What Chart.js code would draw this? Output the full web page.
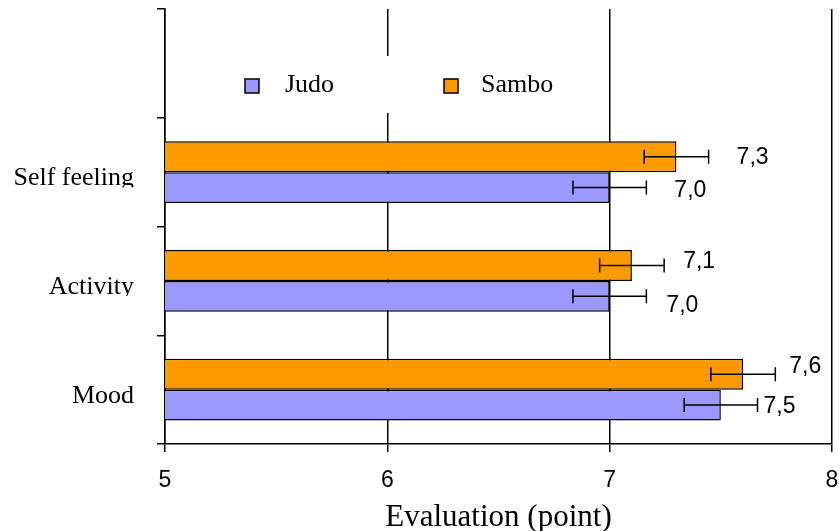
<!DOCTYPE html>
<html>
<head>
<meta charset="utf-8">
<script src="https://cdn.jsdelivr.net/npm/chart.js@4.4.1/dist/chart.umd.min.js"></script>
<style>
  html, body { margin: 0; padding: 0; background: #fff; }
  canvas { display: block; }
</style>
</head>
<body>
<canvas id="chart" width="839" height="531"></canvas>
<script>
// Categories top to bottom; the first slot is left empty to hold the legend.
const categories = ['', 'Self feeling', 'Activity', 'Mood'];

// Mean evaluation (points) and error margins per group
const samboValues = [null, 7.3, 7.1, 7.6];
const judoValues  = [null, 7.0, 7.0, 7.5];
const samboErrors = [null, 0.145, 0.145, 0.145];
const judoErrors  = [null, 0.165, 0.165, 0.165];

// Value axis
const xTickValues = [5, 6, 7, 8];
const xTitle = 'Evaluation (point)';

const ORANGE = '#FF9900';
const LILAC = '#9999FF';
const SERIF = '"Liberation Serif", "Times New Roman", serif';
const SANS = '"Liberation Sans", Arial, sans-serif';

// Hand-placed value labels: dx from the error-bar end, dy is the baseline from the bar centre
const labelNudge = [
  [null, { dx: 28, dy: 7.5 }, { dx: 19, dy: 2.5 }, { dx: 14, dy: -1.5 }],   // Sambo
  [null, { dx: 28, dy: 9.5 }, { dx: 20, dy: 16 }, { dx: 6, dy: 7.5 }]       // Judo
];
const errorSets = [samboErrors, judoErrors];

const errorBars = {
  id: 'errorBars',
  afterDatasetsDraw(chart) {
    const ctx = chart.ctx;
    const xs = chart.scales.x;
    chart.data.datasets.forEach((ds, di) => {
      const meta = chart.getDatasetMeta(di);
      meta.data.forEach((bar, i) => {
        const v = ds.data[i];
        if (v == null) return;
        const e = errorSets[di][i];
        const lo = xs.getPixelForValue(v - e);
        const hi = xs.getPixelForValue(v + e);
        const y = bar.y;
        ctx.save();
        ctx.strokeStyle = '#000';
        ctx.lineWidth = 1.5;
        ctx.beginPath();
        ctx.moveTo(lo, y); ctx.lineTo(hi, y);
        ctx.moveTo(lo, y - 7); ctx.lineTo(lo, y + 7);
        ctx.moveTo(hi, y - 7); ctx.lineTo(hi, y + 7);
        ctx.stroke();
        const n = labelNudge[di][i];
        ctx.fillStyle = '#000';
        ctx.font = '23px ' + SANS;
        ctx.textAlign = 'left';
        ctx.textBaseline = 'alphabetic';
        ctx.fillText(v.toFixed(1).replace('.', ','), hi + n.dx, y + n.dy);
        ctx.restore();
      });
    });
  }
};

// Category names, right-aligned and clipped just below the baseline
const categoryLabels = {
  id: 'categoryLabels',
  afterDraw(chart) {
    const ctx = chart.ctx;
    const ys = chart.scales.y;
    const right = chart.chartArea.left - 31;
    categories.forEach((name, i) => {
      if (!name) return;
      const base = ys.getPixelForTick(i) + 13;
      ctx.save();
      ctx.beginPath();
      ctx.rect(0, base - 40, right + 4, 42);
      ctx.clip();
      ctx.fillStyle = '#000';
      ctx.font = '26px ' + SERIF;
      ctx.textAlign = 'right';
      ctx.textBaseline = 'alphabetic';
      ctx.fillText(name, right, base);
      ctx.restore();
    });
  }
};

// Legend placed inside the empty top slot, on a white panel
const insideLegend = {
  id: 'insideLegend',
  afterDraw(chart) {
    const ctx = chart.ctx;
    const a = chart.chartArea;
    ctx.save();
    ctx.fillStyle = '#fff';
    ctx.fillRect(a.left + 65, a.top + 47, 355, 57);
    const items = [
      { text: 'Judo', color: LILAC, box: a.left + 80, label: a.left + 120 },
      { text: 'Sambo', color: ORANGE, box: a.left + 279, label: a.left + 316 }
    ];
    items.forEach(it => {
      ctx.fillStyle = it.color;
      ctx.fillRect(it.box, a.top + 70, 14, 14);
      ctx.strokeStyle = '#000';
      ctx.lineWidth = 1.5;
      ctx.strokeRect(it.box, a.top + 70, 14, 14);
      ctx.fillStyle = '#000';
      ctx.font = '26px ' + SERIF;
      ctx.textAlign = 'left';
      ctx.textBaseline = 'alphabetic';
      ctx.fillText(it.text, it.label, a.top + 83);
    });
    ctx.restore();
  }
};

const noScalePadding = s => {
  s.paddingLeft = 0; s.paddingRight = 0; s.paddingTop = 0; s.paddingBottom = 0;
};

new Chart(document.getElementById('chart'), {
  type: 'bar',
  data: {
    labels: categories,
    datasets: [
      { label: 'Sambo', data: samboValues, backgroundColor: ORANGE, borderColor: '#000', borderWidth: 1.5, borderSkipped: false },
      { label: 'Judo', data: judoValues, backgroundColor: LILAC, borderColor: '#000', borderWidth: 1.5, borderSkipped: false }
    ]
  },
  options: {
    indexAxis: 'y',
    responsive: false,
    animation: false,
    categoryPercentage: 0.57,
    barPercentage: 1,
    layout: { autoPadding: false, padding: { top: 9, right: 7, left: 0, bottom: 0 } },
    plugins: { legend: { display: false }, tooltip: { enabled: false } },
    scales: {
      x: {
        min: xTickValues[0],
        max: xTickValues[xTickValues.length - 1],
        afterBuildTicks: s => { s.ticks = xTickValues.map(v => ({ value: v })); },
        ticks: { color: '#000', font: { family: SANS, size: 23 }, padding: 15 },
        grid: { color: '#000', lineWidth: 1.5, tickLength: 8, drawTicks: true },
        border: { color: '#000', width: 1.5 },
        title: { display: true, text: xTitle, color: '#000', font: { family: SERIF, size: 31, lineHeight: 0.85 }, padding: 0 },
        afterFit: s => { s.height = 87; noScalePadding(s); }
      },
      y: {
        ticks: { callback: () => '' },
        grid: { drawOnChartArea: false, color: '#000', lineWidth: 1.5, tickLength: 8, offset: true },
        border: { color: '#000', width: 1.5 },
        afterFit: s => { s.width = 165; noScalePadding(s); }
      }
    }
  },
  plugins: [errorBars, categoryLabels, insideLegend]
});
</script>
</body>
</html>
